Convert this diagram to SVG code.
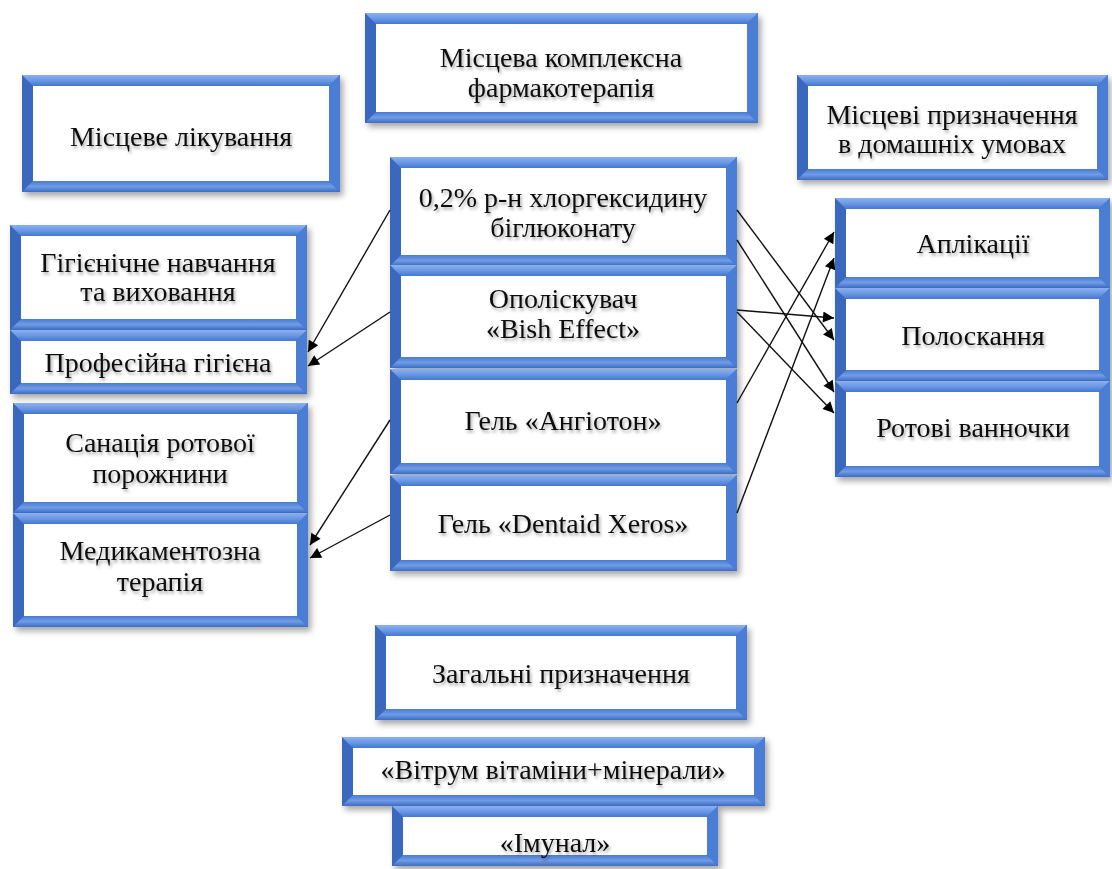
<svg xmlns="http://www.w3.org/2000/svg" width="1112" height="869" viewBox="0 0 1112 869">
<defs>
<filter id="sh" x="-10%" y="-10%" width="130%" height="140%"><feDropShadow dx="3" dy="4" stdDeviation="3" flood-color="#000" flood-opacity="0.35"/></filter>
<filter id="tsh" x="-10%" y="-30%" width="130%" height="180%"><feDropShadow dx="1.5" dy="2.5" stdDeviation="1.5" flood-color="#000" flood-opacity="0.35"/></filter>
<linearGradient id="gt" x1="0" y1="0" x2="0" y2="1"><stop offset="0" stop-color="#8db0ee"/><stop offset="0.5" stop-color="#6a98e4"/><stop offset="1" stop-color="#4677cf"/></linearGradient>
<linearGradient id="gb" x1="0" y1="0" x2="0" y2="1"><stop offset="0" stop-color="#4a7bd2"/><stop offset="0.5" stop-color="#6f9ce6"/><stop offset="1" stop-color="#3e6cc4"/></linearGradient>
<marker id="ah" viewBox="0 0 10 10" refX="10" refY="5" markerWidth="15" markerHeight="11" markerUnits="userSpaceOnUse" orient="auto"><path d="M0,0 L10,5 L0,10 z" fill="#000"/></marker>
<style>
.fr{fill:#3a67bf;filter:url(#sh)}
.tp{fill:url(#gt)}
.bt{fill:url(#gb)}
.rt{fill:#4a7dd6}
.in{fill:#ffffff}
text{font-family:"Liberation Serif","Times New Roman",serif;font-size:28px;fill:#111;text-anchor:middle;filter:url(#tsh)}
.cn line{stroke:#111;stroke-width:1.4;marker-end:url(#ah)}
</style>
</defs>
<rect width="1112" height="869" fill="#fff"/>

<g id="nA">
<rect class="fr" x="365" y="13" width="393" height="110"/>
<polygon class="tp" points="365,13 758,13 747,24 376,24"/>
<polygon class="bt" points="365,123 758,123 747,112 376,112"/>
<polygon class="rt" points="758,13 747,24 747,112 758,123"/>
<rect class="in" x="376" y="24" width="371" height="88"/>
<text x="561" y="67">Місцева комплексна</text>
<text x="561" y="97">фармакотерапія</text>
</g>

<g id="nB">
<rect class="fr" x="22" y="75" width="318" height="117"/>
<polygon class="tp" points="22,75 340,75 329,86 33,86"/>
<polygon class="bt" points="22,192 340,192 329,181 33,181"/>
<polygon class="rt" points="340,75 329,86 329,181 340,192"/>
<rect class="in" x="33" y="86" width="296" height="95"/>
<text x="181" y="146">Місцеве лікування</text>
</g>

<g id="nC">
<rect class="fr" x="797" y="75" width="311" height="105"/>
<polygon class="tp" points="797,75 1108,75 1097,86 808,86"/>
<polygon class="bt" points="797,180 1108,180 1097,169 808,169"/>
<polygon class="rt" points="1108,75 1097,86 1097,169 1108,180"/>
<rect class="in" x="808" y="86" width="289" height="83"/>
<text x="952" y="124">Місцеві призначення</text>
<text x="952" y="153">в домашніх умовах</text>
</g>

<g id="nD1">
<rect class="fr" x="390" y="157" width="347" height="109"/>
<polygon class="tp" points="390,157 737,157 726,168 401,168"/>
<polygon class="bt" points="390,266 737,266 726,255 401,255"/>
<polygon class="rt" points="737,157 726,168 726,255 737,266"/>
<rect class="in" x="401" y="168" width="325" height="87"/>
<text x="563" y="207">0,2% р-н хлоргексидину</text>
<text x="563" y="237">біглюконату</text>
</g>

<g id="nD2">
<rect class="fr" x="390" y="265" width="347" height="103"/>
<polygon class="tp" points="390,265 737,265 726,276 401,276"/>
<polygon class="bt" points="390,368 737,368 726,357 401,357"/>
<polygon class="rt" points="737,265 726,276 726,357 737,368"/>
<rect class="in" x="401" y="276" width="325" height="81"/>
<text x="563" y="308">Ополіскувач</text>
<text x="563" y="338">«Bish Effect»</text>
</g>

<g id="nD3">
<rect class="fr" x="390" y="369" width="347" height="105"/>
<polygon class="tp" points="390,369 737,369 726,380 401,380"/>
<polygon class="bt" points="390,474 737,474 726,463 401,463"/>
<polygon class="rt" points="737,369 726,380 726,463 737,474"/>
<rect class="in" x="401" y="380" width="325" height="83"/>
<text x="563" y="430">Гель «Ангіотон»</text>
</g>

<g id="nD4">
<rect class="fr" x="390" y="475" width="347" height="96"/>
<polygon class="tp" points="390,475 737,475 726,486 401,486"/>
<polygon class="bt" points="390,571 737,571 726,560 401,560"/>
<polygon class="rt" points="737,475 726,486 726,560 737,571"/>
<rect class="in" x="401" y="486" width="325" height="74"/>
<text x="563" y="533">Гель «Dentaid Xeros»</text>
</g>

<g id="nL1">
<rect class="fr" x="10" y="225" width="297" height="105"/>
<polygon class="tp" points="10,225 307,225 296,236 21,236"/>
<polygon class="bt" points="10,330 307,330 296,319 21,319"/>
<polygon class="rt" points="307,225 296,236 296,319 307,330"/>
<rect class="in" x="21" y="236" width="275" height="83"/>
<text x="158" y="272">Гігієнічне навчання</text>
<text x="158" y="301">та виховання</text>
</g>

<g id="nL2">
<rect class="fr" x="10" y="330" width="297" height="64"/>
<polygon class="tp" points="10,330 307,330 296,341 21,341"/>
<polygon class="bt" points="10,394 307,394 296,383 21,383"/>
<polygon class="rt" points="307,330 296,341 296,383 307,394"/>
<rect class="in" x="21" y="341" width="275" height="42"/>
<text x="158" y="372">Професійна гігієна</text>
</g>

<g id="nL3">
<rect class="fr" x="13" y="403" width="295" height="110"/>
<polygon class="tp" points="13,403 308,403 297,414 24,414"/>
<polygon class="bt" points="13,513 308,513 297,502 24,502"/>
<polygon class="rt" points="308,403 297,414 297,502 308,513"/>
<rect class="in" x="24" y="414" width="273" height="88"/>
<text x="160" y="452">Санація ротової</text>
<text x="160" y="483">порожнини</text>
</g>

<g id="nL4">
<rect class="fr" x="13" y="513" width="295" height="114"/>
<polygon class="tp" points="13,513 308,513 297,524 24,524"/>
<polygon class="bt" points="13,627 308,627 297,616 24,616"/>
<polygon class="rt" points="308,513 297,524 297,616 308,627"/>
<rect class="in" x="24" y="524" width="273" height="92"/>
<text x="160" y="560">Медикаментозна</text>
<text x="160" y="591">терапія</text>
</g>

<g id="nR1">
<rect class="fr" x="835" y="198" width="275" height="90"/>
<polygon class="tp" points="835,198 1110,198 1099,209 846,209"/>
<polygon class="bt" points="835,288 1110,288 1099,277 846,277"/>
<polygon class="rt" points="1110,198 1099,209 1099,277 1110,288"/>
<rect class="in" x="846" y="209" width="253" height="68"/>
<text x="973" y="253">Аплікації</text>
</g>

<g id="nR2">
<rect class="fr" x="835" y="288" width="275" height="93"/>
<polygon class="tp" points="835,288 1110,288 1099,299 846,299"/>
<polygon class="bt" points="835,381 1110,381 1099,370 846,370"/>
<polygon class="rt" points="1110,288 1099,299 1099,370 1110,381"/>
<rect class="in" x="846" y="299" width="253" height="71"/>
<text x="973" y="345">Полоскання</text>
</g>

<g id="nR3">
<rect class="fr" x="835" y="381" width="275" height="96"/>
<polygon class="tp" points="835,381 1110,381 1099,392 846,392"/>
<polygon class="bt" points="835,477 1110,477 1099,466 846,466"/>
<polygon class="rt" points="1110,381 1099,392 1099,466 1110,477"/>
<rect class="in" x="846" y="392" width="253" height="74"/>
<text x="973" y="437">Ротові ванночки</text>
</g>

<g id="nG">
<rect class="fr" x="375" y="625" width="372" height="95"/>
<polygon class="tp" points="375,625 747,625 736,636 386,636"/>
<polygon class="bt" points="375,720 747,720 736,709 386,709"/>
<polygon class="rt" points="747,625 736,636 736,709 747,720"/>
<rect class="in" x="386" y="636" width="350" height="73"/>
<text x="561" y="683">Загальні призначення</text>
</g>

<g id="nV">
<rect class="fr" x="342" y="737" width="423" height="69"/>
<polygon class="tp" points="342,737 765,737 754,748 353,748"/>
<polygon class="bt" points="342,806 765,806 754,795 353,795"/>
<polygon class="rt" points="765,737 754,748 754,795 765,806"/>
<rect class="in" x="353" y="748" width="401" height="47"/>
<text x="553" y="779">«Вітрум вітаміни+мінерали»</text>
</g>

<g id="nI">
<rect class="fr" x="392" y="806" width="326" height="60"/>
<polygon class="tp" points="392,806 718,806 707,817 403,817"/>
<polygon class="bt" points="392,866 718,866 707,855 403,855"/>
<polygon class="rt" points="718,806 707,817 707,855 718,866"/>
<rect class="in" x="403" y="817" width="304" height="38"/>
<text x="555" y="852">«Імунал»</text>
</g>

<g id="connectors" class="cn">
<line x1="390" y1="210" x2="308" y2="352"/>
<line x1="390" y1="312" x2="308" y2="366"/>
<line x1="390" y1="420" x2="310" y2="545"/>
<line x1="390" y1="515" x2="310" y2="558"/>
<line x1="737" y1="210" x2="834" y2="340"/>
<line x1="737" y1="240" x2="834" y2="392"/>
<line x1="737" y1="310" x2="834" y2="318"/>
<line x1="737" y1="312" x2="834" y2="413"/>
<line x1="737" y1="403" x2="834" y2="232"/>
<line x1="737" y1="513" x2="834" y2="258"/>
</g>
</svg>
